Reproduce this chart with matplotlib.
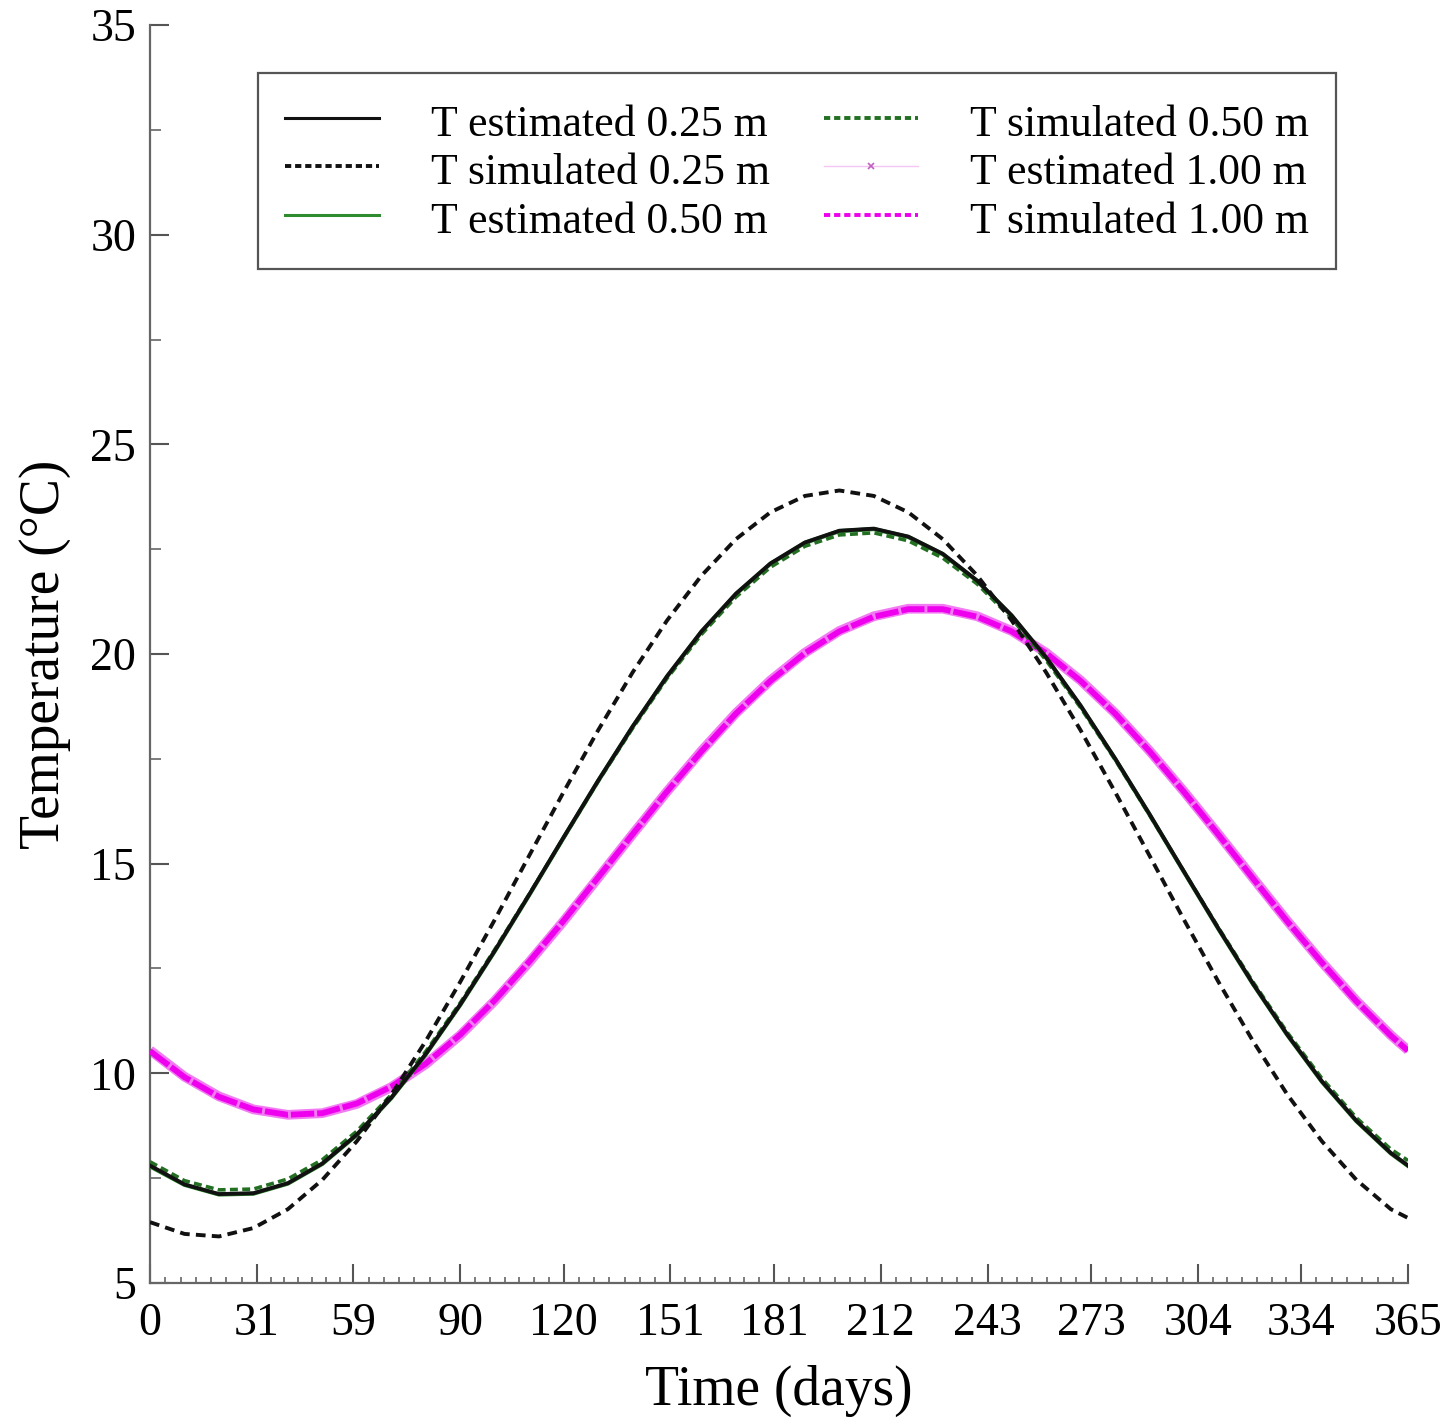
import matplotlib
matplotlib.use("Agg")
import matplotlib.pyplot as plt
from matplotlib.lines import Line2D
import numpy as np

plt.rcParams['font.family'] = ['Liberation Serif', 'DejaVu Serif']

# ---- data ----
days = [0, 10, 20, 30, 40, 50, 60, 70, 80, 90, 100, 110, 120, 130, 140, 150, 160, 170, 180,
        190, 200, 210, 220, 230, 240, 250, 260, 270, 280, 290, 300, 310, 320, 330, 340, 350, 360, 365]

t_est_025 = [7.80, 7.35, 7.12, 7.14, 7.38, 7.85, 8.54, 9.42, 10.46, 11.64, 12.92, 14.26, 15.63, 16.98,
             18.27, 19.47, 20.54, 21.44, 22.16, 22.66, 22.94, 22.99, 22.80, 22.39, 21.75, 20.92, 19.92,
             18.77, 17.51, 16.18, 14.81, 13.45, 12.14, 10.92, 9.81, 8.87, 8.10, 7.80]

t_sim_025 = [6.45, 6.17, 6.11, 6.31, 6.76, 7.46, 8.38, 9.49, 10.77, 12.18, 13.66, 15.19, 16.71, 18.18,
             19.56, 20.80, 21.87, 22.74, 23.38, 23.77, 23.90, 23.77, 23.38, 22.74, 21.87, 20.80, 19.56,
             18.18, 16.71, 15.19, 13.66, 12.18, 10.77, 9.49, 8.38, 7.46, 6.76, 6.55]

t_est_050 = [7.78, 7.34, 7.11, 7.13, 7.37, 7.84, 8.53, 9.41, 10.45, 11.63, 12.91, 14.25, 15.62, 16.97,
             18.26, 19.46, 20.53, 21.43, 22.15, 22.65, 22.93, 22.98, 22.79, 22.38, 21.74, 20.91, 19.91,
             18.76, 17.50, 16.17, 14.80, 13.44, 12.13, 10.91, 9.80, 8.86, 8.09, 7.79]

t_sim_050 = [7.89, 7.44, 7.22, 7.24, 7.48, 7.94, 8.62, 9.49, 10.52, 11.68, 12.95, 14.27, 15.62, 16.96,
             18.23, 19.42, 20.47, 21.36, 22.07, 22.57, 22.84, 22.89, 22.70, 22.29, 21.67, 20.85, 19.85,
             18.72, 17.48, 16.16, 14.81, 13.47, 12.18, 10.97, 9.88, 8.94, 8.19, 7.92]

t_est_100 = [10.55, 9.92, 9.45, 9.14, 9.01, 9.05, 9.27, 9.67, 10.22, 10.91, 11.73, 12.65, 13.63, 14.66,
             15.70, 16.72, 17.69, 18.59, 19.37, 20.03, 20.55, 20.90, 21.08, 21.08, 20.90, 20.55, 20.03,
             19.37, 18.59, 17.69, 16.72, 15.70, 14.66, 13.63, 12.65, 11.73, 10.91, 10.55]

t_sim_100 = [10.53, 9.91, 9.44, 9.14, 9.01, 9.05, 9.28, 9.68, 10.23, 10.92, 11.74, 12.66, 13.64, 14.67,
             15.70, 16.72, 17.68, 18.58, 19.36, 20.02, 20.54, 20.89, 21.07, 21.07, 20.89, 20.54, 20.02,
             19.36, 18.58, 17.68, 16.71, 15.69, 14.65, 13.62, 12.64, 11.72, 10.90, 10.54]

x_ticks = [0, 31, 59, 90, 120, 151, 181, 212, 243, 273, 304, 334, 365]
y_ticks = [5, 10, 15, 20, 25, 30, 35]

labels = ["T estimated 0.25 m", "T simulated 0.25 m", "T estimated 0.50 m",
          "T simulated 0.50 m", "T estimated 1.00 m", "T simulated 1.00 m"]

# ---- figure ----
fig = plt.figure(figsize=(14.44, 14.23), dpi=100)
ax = fig.add_axes([0.1039, 0.0984, 0.8712, 0.8840])

c_black = "#111111"
c_green = "#2e8b2e"
c_green_d = "#237023"
c_mag = "#ee00ee"
c_pink = "#f27af2"

ax.plot(days, t_est_100, color=c_pink, lw=7.0, solid_capstyle='butt', zorder=2)
ax.plot(days, t_sim_100, color=c_mag, lw=4.2, dashes=(4.0, 0.5), zorder=3)
ax.plot(days, t_est_050, color=c_green, lw=3.0, zorder=4)
ax.plot(days, t_sim_050, color=c_green_d, lw=2.6, dashes=(2.2, 1.2), zorder=5)
ax.plot(days, t_est_025, color=c_black, lw=2.8, zorder=6)
ax.plot(days, t_sim_025, color=c_black, lw=2.8, dashes=(2.5, 1.6), zorder=7)

handles = [
    Line2D([], [], color=c_black, lw=2.2),
    Line2D([], [], color=c_black, lw=2.8, dashes=(1.6, 1.0)),
    Line2D([], [], color=c_green, lw=2.2),
    Line2D([], [], color=c_green_d, lw=2.8, dashes=(1.6, 1.0)),
    Line2D([], [], color="#f3c6f3", lw=1.0, marker='x', markersize=5, markevery=[1],
           markeredgecolor="#c060c0", markeredgewidth=1.2),
    Line2D([], [], color=c_mag, lw=2.8, dashes=(1.6, 1.0)),
]

leg = ax.legend(handles, labels, ncol=2, loc='upper left', bbox_to_anchor=(0.0859, 0.962),
                fontsize=31.5, frameon=True, fancybox=False, framealpha=1,
                handlelength=2.14, handletextpad=1.19, columnspacing=1.25,
                handleheight=1.1, labelspacing=0.08, borderpad=0.62, borderaxespad=0.0)
leg.get_frame().set_edgecolor("#555555")
leg.get_frame().set_linewidth(1.6)

ax.set_xlim(0, 365)
ax.set_ylim(5, 35)
ax.set_xticks(x_ticks)
ax.set_xticklabels([str(v) for v in x_ticks])
ax.set_yticks(y_ticks)
ax.set_yticklabels([str(v) for v in y_ticks])

minor_x = []
for a, b in zip(x_ticks[:-1], x_ticks[1:]):
    minor_x.extend(np.linspace(a, b, 8)[1:-1])
ax.set_xticks(minor_x, minor=True)
ax.set_yticks(np.arange(7.5, 35, 5), minor=True)

for s in ['top', 'right']:
    ax.spines[s].set_visible(False)
for s in ['left', 'bottom']:
    ax.spines[s].set_color("#666666")
    ax.spines[s].set_linewidth(1.6)

ax.tick_params(axis='both', which='major', direction='in', length=14, width=1.5,
               color="#555555", labelsize=33)
ax.tick_params(axis='x', which='major', pad=14)
ax.tick_params(axis='y', which='major', pad=10)
ax.tick_params(axis='x', which='minor', direction='in', length=4, width=1.2, color="#666666")
ax.tick_params(axis='y', which='minor', direction='in', length=8, width=1.2, color="#666666")

ax.set_xlabel("Time (days)", fontsize=40, labelpad=14)
ax.set_ylabel("Temperature (°C)", fontsize=40, labelpad=14)

fig.savefig("out.png", dpi=100)
